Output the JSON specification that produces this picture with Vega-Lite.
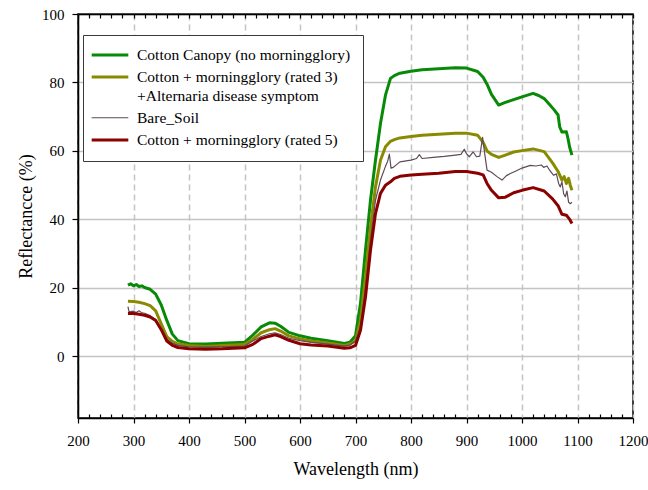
{
  "$schema": "https://vega.github.io/schema/vega-lite/v6.json",
  "width": 555,
  "height": 404,
  "autosize": {"type": "none"},
  "padding": {"left": 78, "top": 14, "right": 15, "bottom": 72},
  "background": "white",
  "config": {
    "view": {"stroke": "black", "strokeWidth": 1.5},
    "font": "Liberation Serif",
    "axis": {"labelFont": "Liberation Serif", "titleFont": "Liberation Serif", "labelColor": "black", "titleColor": "black", "titleFontWeight": "normal", "domainColor": "black", "tickColor": "black", "domainWidth": 1.5, "tickWidth": 1.2}
  },
  "datasets": {
    "d": [
      {"s":"canopy","wl":290,"R":20.8},{"s":"canopy","wl":295,"R":21.2},{"s":"canopy","wl":300,"R":20.6},{"s":"canopy","wl":305,"R":21},{"s":"canopy","wl":310,"R":20.4},{"s":"canopy","wl":315,"R":20.6},{"s":"canopy","wl":320,"R":20.1},{"s":"canopy","wl":330,"R":19.6},{"s":"canopy","wl":340,"R":18.2},{"s":"canopy","wl":350,"R":15},{"s":"canopy","wl":360,"R":10.5},{"s":"canopy","wl":370,"R":6.5},{"s":"canopy","wl":380,"R":4.6},{"s":"canopy","wl":400,"R":3.7},{"s":"canopy","wl":430,"R":3.6},{"s":"canopy","wl":460,"R":3.8},{"s":"canopy","wl":500,"R":4.1},{"s":"canopy","wl":515,"R":6.2},{"s":"canopy","wl":530,"R":8.6},{"s":"canopy","wl":545,"R":9.8},{"s":"canopy","wl":555,"R":9.7},{"s":"canopy","wl":565,"R":8.8},{"s":"canopy","wl":580,"R":7},{"s":"canopy","wl":600,"R":6},{"s":"canopy","wl":620,"R":5.3},{"s":"canopy","wl":650,"R":4.6},{"s":"canopy","wl":680,"R":3.8},{"s":"canopy","wl":690,"R":4.1},{"s":"canopy","wl":700,"R":6},{"s":"canopy","wl":709,"R":15.5},{"s":"canopy","wl":718,"R":31},{"s":"canopy","wl":727,"R":45.6},{"s":"canopy","wl":736,"R":57.3},{"s":"canopy","wl":745,"R":68},{"s":"canopy","wl":754,"R":76.3},{"s":"canopy","wl":763,"R":81.2},{"s":"canopy","wl":770,"R":82},{"s":"canopy","wl":780,"R":82.7},{"s":"canopy","wl":800,"R":83.3},{"s":"canopy","wl":820,"R":83.7},{"s":"canopy","wl":850,"R":84},{"s":"canopy","wl":880,"R":84.3},{"s":"canopy","wl":900,"R":84.2},{"s":"canopy","wl":920,"R":83.2},{"s":"canopy","wl":930,"R":81.5},{"s":"canopy","wl":937,"R":79.5},{"s":"canopy","wl":945,"R":76.5},{"s":"canopy","wl":958,"R":73.4},{"s":"canopy","wl":970,"R":74.2},{"s":"canopy","wl":985,"R":75},{"s":"canopy","wl":1000,"R":75.8},{"s":"canopy","wl":1010,"R":76.3},{"s":"canopy","wl":1020,"R":76.8},{"s":"canopy","wl":1030,"R":76.2},{"s":"canopy","wl":1040,"R":75.3},{"s":"canopy","wl":1050,"R":73.5},{"s":"canopy","wl":1058,"R":72},{"s":"canopy","wl":1065,"R":70.5},{"s":"canopy","wl":1068,"R":67},{"s":"canopy","wl":1072,"R":65.5},{"s":"canopy","wl":1080,"R":65.6},{"s":"canopy","wl":1083,"R":63.5},{"s":"canopy","wl":1086,"R":61},{"s":"canopy","wl":1090,"R":58.8},
      {"s":"rated3","wl":290,"R":16.1},{"s":"rated3","wl":300,"R":16},{"s":"rated3","wl":310,"R":15.8},{"s":"rated3","wl":320,"R":15.4},{"s":"rated3","wl":330,"R":14.8},{"s":"rated3","wl":340,"R":13.3},{"s":"rated3","wl":350,"R":9.5},{"s":"rated3","wl":360,"R":5.8},{"s":"rated3","wl":370,"R":4.4},{"s":"rated3","wl":380,"R":3.6},{"s":"rated3","wl":400,"R":3.2},{"s":"rated3","wl":430,"R":2.9},{"s":"rated3","wl":460,"R":3.2},{"s":"rated3","wl":500,"R":3.5},{"s":"rated3","wl":515,"R":5},{"s":"rated3","wl":530,"R":6.9},{"s":"rated3","wl":545,"R":7.8},{"s":"rated3","wl":555,"R":8.1},{"s":"rated3","wl":565,"R":7.4},{"s":"rated3","wl":580,"R":6},{"s":"rated3","wl":600,"R":5.1},{"s":"rated3","wl":620,"R":4.5},{"s":"rated3","wl":650,"R":3.9},{"s":"rated3","wl":680,"R":3.2},{"s":"rated3","wl":690,"R":3.6},{"s":"rated3","wl":700,"R":4.5},{"s":"rated3","wl":709,"R":10.5},{"s":"rated3","wl":718,"R":23.2},{"s":"rated3","wl":727,"R":37.8},{"s":"rated3","wl":736,"R":49.5},{"s":"rated3","wl":745,"R":57.3},{"s":"rated3","wl":754,"R":61.2},{"s":"rated3","wl":763,"R":62.8},{"s":"rated3","wl":770,"R":63.3},{"s":"rated3","wl":780,"R":63.8},{"s":"rated3","wl":800,"R":64.2},{"s":"rated3","wl":820,"R":64.6},{"s":"rated3","wl":850,"R":64.9},{"s":"rated3","wl":880,"R":65.2},{"s":"rated3","wl":900,"R":65.2},{"s":"rated3","wl":920,"R":64.6},{"s":"rated3","wl":930,"R":62.5},{"s":"rated3","wl":937,"R":60},{"s":"rated3","wl":945,"R":59},{"s":"rated3","wl":958,"R":58.1},{"s":"rated3","wl":970,"R":58.8},{"s":"rated3","wl":985,"R":59.7},{"s":"rated3","wl":1000,"R":60.1},{"s":"rated3","wl":1020,"R":60.6},{"s":"rated3","wl":1040,"R":59.8},{"s":"rated3","wl":1055,"R":56.5},{"s":"rated3","wl":1065,"R":54},{"s":"rated3","wl":1072,"R":51.5},{"s":"rated3","wl":1076,"R":52.5},{"s":"rated3","wl":1080,"R":50.5},{"s":"rated3","wl":1084,"R":52},{"s":"rated3","wl":1087,"R":50},{"s":"rated3","wl":1090,"R":48.5},
      {"s":"soil","wl":290,"R":14.5},{"s":"soil","wl":292,"R":13},{"s":"soil","wl":300,"R":13.2},{"s":"soil","wl":305,"R":12.8},{"s":"soil","wl":310,"R":13.3},{"s":"soil","wl":315,"R":12.7},{"s":"soil","wl":320,"R":12.6},{"s":"soil","wl":330,"R":11.9},{"s":"soil","wl":340,"R":10.8},{"s":"soil","wl":350,"R":8},{"s":"soil","wl":360,"R":5},{"s":"soil","wl":370,"R":3.8},{"s":"soil","wl":380,"R":3.2},{"s":"soil","wl":400,"R":2.8},{"s":"soil","wl":430,"R":2.7},{"s":"soil","wl":460,"R":2.8},{"s":"soil","wl":500,"R":3},{"s":"soil","wl":515,"R":4.5},{"s":"soil","wl":530,"R":5.8},{"s":"soil","wl":545,"R":6.6},{"s":"soil","wl":555,"R":6.9},{"s":"soil","wl":565,"R":6.4},{"s":"soil","wl":580,"R":5.3},{"s":"soil","wl":600,"R":4.6},{"s":"soil","wl":620,"R":4.1},{"s":"soil","wl":650,"R":3.6},{"s":"soil","wl":680,"R":3},{"s":"soil","wl":690,"R":3.3},{"s":"soil","wl":700,"R":4.5},{"s":"soil","wl":709,"R":8.6},{"s":"soil","wl":718,"R":20.3},{"s":"soil","wl":727,"R":33.9},{"s":"soil","wl":736,"R":45.6},{"s":"soil","wl":745,"R":51.5},{"s":"soil","wl":754,"R":55.5},{"s":"soil","wl":758,"R":57},{"s":"soil","wl":761,"R":59.1},{"s":"soil","wl":764,"R":55},{"s":"soil","wl":768,"R":55.2},{"s":"soil","wl":780,"R":56.8},{"s":"soil","wl":800,"R":57.3},{"s":"soil","wl":810,"R":57.8},{"s":"soil","wl":815,"R":58.9},{"s":"soil","wl":820,"R":57.8},{"s":"soil","wl":840,"R":58.1},{"s":"soil","wl":860,"R":58.4},{"s":"soil","wl":880,"R":58.8},{"s":"soil","wl":890,"R":59},{"s":"soil","wl":896,"R":60.5},{"s":"soil","wl":900,"R":59.2},{"s":"soil","wl":905,"R":58.3},{"s":"soil","wl":912,"R":59.7},{"s":"soil","wl":918,"R":58.3},{"s":"soil","wl":924,"R":58.5},{"s":"soil","wl":929,"R":64},{"s":"soil","wl":933,"R":59},{"s":"soil","wl":937,"R":54.4},{"s":"soil","wl":945,"R":53.8},{"s":"soil","wl":955,"R":52.5},{"s":"soil","wl":964,"R":51.5},{"s":"soil","wl":972,"R":52.8},{"s":"soil","wl":979,"R":53.4},{"s":"soil","wl":990,"R":54.2},{"s":"soil","wl":1000,"R":55},{"s":"soil","wl":1015,"R":55.8},{"s":"soil","wl":1025,"R":55.6},{"s":"soil","wl":1035,"R":55.9},{"s":"soil","wl":1039,"R":55.2},{"s":"soil","wl":1045,"R":55.6},{"s":"soil","wl":1050,"R":54.3},{"s":"soil","wl":1057,"R":52.9},{"s":"soil","wl":1062,"R":53.3},{"s":"soil","wl":1066,"R":50.5},{"s":"soil","wl":1069,"R":49.5},{"s":"soil","wl":1072,"R":51},{"s":"soil","wl":1075,"R":47.5},{"s":"soil","wl":1078,"R":46.6},{"s":"soil","wl":1081,"R":48.3},{"s":"soil","wl":1084,"R":45},{"s":"soil","wl":1087,"R":44.6},{"s":"soil","wl":1090,"R":45},
      {"s":"rated5","wl":290,"R":12.5},{"s":"rated5","wl":300,"R":12.5},{"s":"rated5","wl":310,"R":12.3},{"s":"rated5","wl":320,"R":12},{"s":"rated5","wl":330,"R":11.5},{"s":"rated5","wl":340,"R":10.5},{"s":"rated5","wl":350,"R":7.8},{"s":"rated5","wl":360,"R":4.5},{"s":"rated5","wl":370,"R":3.2},{"s":"rated5","wl":380,"R":2.6},{"s":"rated5","wl":400,"R":2.2},{"s":"rated5","wl":430,"R":2.1},{"s":"rated5","wl":460,"R":2.2},{"s":"rated5","wl":500,"R":2.5},{"s":"rated5","wl":515,"R":3.5},{"s":"rated5","wl":530,"R":5.2},{"s":"rated5","wl":545,"R":5.9},{"s":"rated5","wl":555,"R":6.3},{"s":"rated5","wl":565,"R":5.8},{"s":"rated5","wl":580,"R":4.7},{"s":"rated5","wl":600,"R":3.7},{"s":"rated5","wl":620,"R":3.3},{"s":"rated5","wl":650,"R":3},{"s":"rated5","wl":680,"R":2.4},{"s":"rated5","wl":690,"R":2.5},{"s":"rated5","wl":700,"R":3.2},{"s":"rated5","wl":709,"R":7.6},{"s":"rated5","wl":718,"R":17.3},{"s":"rated5","wl":727,"R":31},{"s":"rated5","wl":736,"R":41.7},{"s":"rated5","wl":745,"R":47.6},{"s":"rated5","wl":754,"R":50},{"s":"rated5","wl":763,"R":51},{"s":"rated5","wl":770,"R":52},{"s":"rated5","wl":780,"R":52.6},{"s":"rated5","wl":800,"R":53},{"s":"rated5","wl":820,"R":53.2},{"s":"rated5","wl":850,"R":53.5},{"s":"rated5","wl":880,"R":54},{"s":"rated5","wl":900,"R":54},{"s":"rated5","wl":920,"R":53.5},{"s":"rated5","wl":930,"R":53},{"s":"rated5","wl":937,"R":50.5},{"s":"rated5","wl":945,"R":48.5},{"s":"rated5","wl":958,"R":46.3},{"s":"rated5","wl":970,"R":46.5},{"s":"rated5","wl":985,"R":47.8},{"s":"rated5","wl":1000,"R":48.5},{"s":"rated5","wl":1020,"R":49.3},{"s":"rated5","wl":1040,"R":48.3},{"s":"rated5","wl":1055,"R":46},{"s":"rated5","wl":1065,"R":44},{"s":"rated5","wl":1072,"R":41.5},{"s":"rated5","wl":1080,"R":41.2},{"s":"rated5","wl":1086,"R":40},{"s":"rated5","wl":1090,"R":38.8}
    ]
  },
  "data": {"name": "d"},
  "resolve": {"axis": {"x": "independent", "y": "independent"}},
  "layer": [
    {
      "mark": {"type": "line", "interpolate": "linear", "strokeJoin": "round"},
      "encoding": {
        "x": {
          "field": "wl", "type": "quantitative",
          "scale": {"domain": [200, 1200], "nice": false, "zero": false},
          "axis": {"orient": "bottom", "format": "d", "values": [200,300,400,500,600,700,800,900,1000,1100,1200], "grid": true, "gridDash": [6,4], "gridColor": "#c4c4c4", "gridWidth": 1.5, "tickSize": 5, "labelFont": "Liberation Serif", "labelFontSize": 15, "labelPadding": 10, "labelFlush": false, "title": "Wavelength (nm)", "titleFont": "Liberation Serif", "titleFontSize": 18, "titleFontWeight": "normal", "titlePadding": 12}
        },
        "y": {
          "field": "R", "type": "quantitative",
          "scale": {"domain": [-18, 100], "nice": false, "zero": false},
          "axis": {"values": [0,20,40,60,80,100], "format": "d", "grid": true, "gridColor": "#c4c4c4", "gridWidth": 1.5, "tickSize": 6, "labelPadding": 8, "labelFont": "Liberation Serif", "labelFontSize": 15, "title": "Reflectancce (%)", "titleFont": "Liberation Serif", "titleFontSize": 18, "titleFontWeight": "normal", "titlePadding": 6}
        },
        "color": {
          "field": "s", "type": "nominal",
          "scale": {"domain": ["canopy","rated3","soil","rated5"], "range": ["#078a07","#8a8a00","#5e4a58","#8b0000"]},
          "legend": {
            "orient": "none", "legendX": 5, "legendY": 21, "title": null,
            "symbolType": "M-3,0H3", "symbolSize": 149, "symbolOffset": 7, "labelOffset": 19,
            "labelFont": "Liberation Serif", "labelFontSize": 15.5, "labelColor": "black", "labelLimit": 0,
            "padding": 12, "strokeColor": "#3a3a3a", "fillColor": "white", "rowPadding": 5,
            "labelExpr": "datum.value === 'canopy' ? 'Cotton Canopy (no morningglory)' : datum.value === 'rated3' ? ['Cotton + morningglory  (rated 3)', ' +Alternaria disease symptom'] : datum.value === 'soil' ? 'Bare_Soil' : 'Cotton +  morningglory (rated 5)'",
            "encode": {"labels": {"update": {"lineHeight": {"value": 19}}}}
          }
        },
        "strokeWidth": {
          "field": "s", "type": "nominal",
          "scale": {"type": "ordinal", "domain": ["canopy","rated3","soil","rated5"], "range": [3,3,1.2,3]},
          "legend": {
            "orient": "none", "legendX": 5, "legendY": 21, "title": null,
            "symbolType": "M-3,0H3", "symbolSize": 149, "symbolOffset": 7, "labelOffset": 19,
            "labelFont": "Liberation Serif", "labelFontSize": 15.5, "labelColor": "black", "labelLimit": 0,
            "padding": 12, "strokeColor": "#3a3a3a", "fillColor": "white", "rowPadding": 5,
            "labelExpr": "datum.value === 'canopy' ? 'Cotton Canopy (no morningglory)' : datum.value === 'rated3' ? ['Cotton + morningglory  (rated 3)', ' +Alternaria disease symptom'] : datum.value === 'soil' ? 'Bare_Soil' : 'Cotton +  morningglory (rated 5)'",
            "encode": {"labels": {"update": {"lineHeight": {"value": 19}}}}
          }
        }
      }
    },
    {
      "mark": {"type": "line", "opacity": 0},
      "encoding": {
        "x": {"field": "wl", "type": "quantitative", "axis": {"orient": "top", "values": [200,220,240,260,280,300,320,340,360,380,400,420,440,460,480,500,520,540,560,580,600,620,640,660,680,700,720,740,760,780,800,820,840,860,880,900,920,940,960,980,1000,1020,1040,1060,1080,1100,1120,1140,1160,1180,1200], "tickSize": -4, "labels": false, "grid": false, "title": null, "domain": true}},
        "y": {"field": "R", "type": "quantitative", "axis": null},
        "detail": {"field": "s"}
      }
    },
    {
      "mark": {"type": "line", "opacity": 0},
      "encoding": {
        "x": {"field": "wl", "type": "quantitative", "axis": {"orient": "bottom", "values": [220,240,260,280,320,340,360,380,420,440,460,480,520,540,560,580,620,640,660,680,720,740,760,780,820,840,860,880,920,940,960,980,1020,1040,1060,1080,1120,1140,1160,1180], "tickSize": -4, "labels": false, "grid": false, "title": null, "domain": false}},
        "y": {"field": "R", "type": "quantitative", "axis": null},
        "detail": {"field": "s"}
      }
    }
  ]
}
